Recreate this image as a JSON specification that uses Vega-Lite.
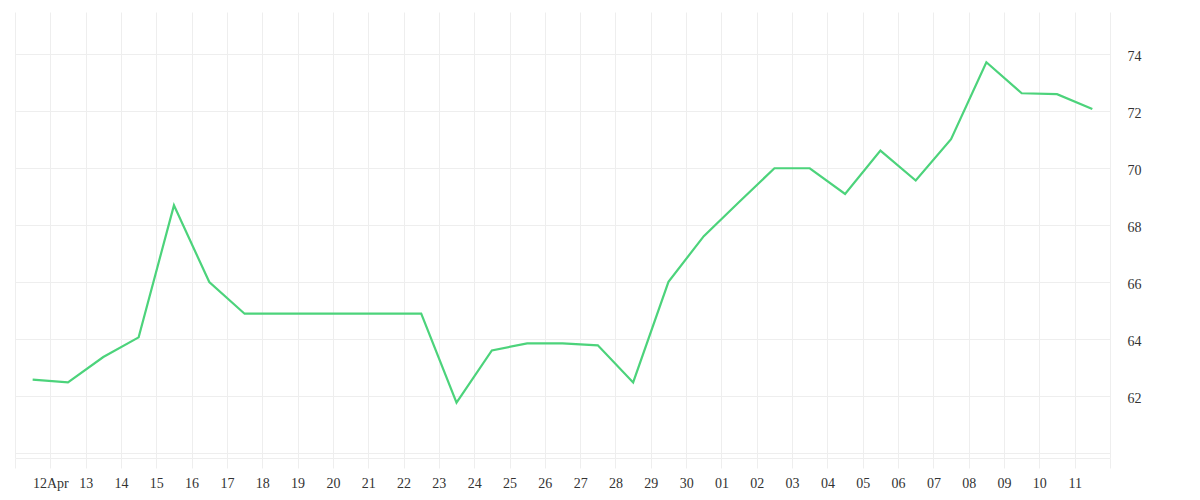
{
  "$schema": "https://vega.github.io/schema/vega-lite/v6.json",
  "autosize": "none",
  "width": 1095,
  "height": 446,
  "padding": {"left": 15, "top": 12, "right": 90, "bottom": 42},
  "background": "white",
  "config": {
    "view": {"stroke": null},
    "axis": {"labelFont": "Liberation Serif", "labelFontSize": 14, "labelColor": "#333333", "gridColor": "#eeeeee", "gridWidth": 1}
  },
  "data": {
    "values": [
      {"date": "2024-04-11T12:00:00Z", "value": 62.59},
      {"date": "2024-04-12T12:00:00Z", "value": 62.49},
      {"date": "2024-04-13T12:00:00Z", "value": 63.38},
      {"date": "2024-04-14T12:00:00Z", "value": 64.07},
      {"date": "2024-04-15T12:00:00Z", "value": 68.70},
      {"date": "2024-04-16T12:00:00Z", "value": 66.01},
      {"date": "2024-04-17T12:00:00Z", "value": 64.90},
      {"date": "2024-04-18T12:00:00Z", "value": 64.90},
      {"date": "2024-04-19T12:00:00Z", "value": 64.90},
      {"date": "2024-04-20T12:00:00Z", "value": 64.90},
      {"date": "2024-04-21T12:00:00Z", "value": 64.90},
      {"date": "2024-04-22T12:00:00Z", "value": 64.90},
      {"date": "2024-04-23T12:00:00Z", "value": 61.78},
      {"date": "2024-04-24T12:00:00Z", "value": 63.61},
      {"date": "2024-04-25T12:00:00Z", "value": 63.86},
      {"date": "2024-04-26T12:00:00Z", "value": 63.86},
      {"date": "2024-04-27T12:00:00Z", "value": 63.79},
      {"date": "2024-04-28T12:00:00Z", "value": 62.49},
      {"date": "2024-04-29T12:00:00Z", "value": 66.02},
      {"date": "2024-04-30T12:00:00Z", "value": 67.62},
      {"date": "2024-05-01T12:00:00Z", "value": 68.82},
      {"date": "2024-05-02T12:00:00Z", "value": 70.00},
      {"date": "2024-05-03T12:00:00Z", "value": 70.00},
      {"date": "2024-05-04T12:00:00Z", "value": 69.10},
      {"date": "2024-05-05T12:00:00Z", "value": 70.62},
      {"date": "2024-05-06T12:00:00Z", "value": 69.57},
      {"date": "2024-05-07T12:00:00Z", "value": 71.02},
      {"date": "2024-05-08T12:00:00Z", "value": 73.72},
      {"date": "2024-05-09T12:00:00Z", "value": 72.63},
      {"date": "2024-05-10T12:00:00Z", "value": 72.60},
      {"date": "2024-05-11T12:00:00Z", "value": 72.08}
    ]
  },
  "mark": {"type": "line", "color": "#4cd37b", "strokeWidth": 2.2, "clip": true},
  "encoding": {
    "x": {
      "field": "date",
      "type": "temporal",
      "scale": {"type": "utc", "domain": [{"year": 2024, "month": 4, "date": 11, "utc": true}, {"year": 2024, "month": 5, "date": 12, "utc": true}], "nice": false},
      "axis": {
        "title": null,
        "tickCount": {"interval": "day", "step": 1},
        "grid": true,
        "domain": true,
        "domainColor": "#eeeeee",
        "ticks": true,
        "tickColor": "#eeeeee",
        "tickSize": 10,
        "labelPadding": 8,
        "labelOverlap": false,
        "labelFlush": false,
        "labelBound": false,
        "labelExpr": "(utcmonth(datum.value) == 3 && utcdate(datum.value) == 11) || (utcmonth(datum.value) == 4 && utcdate(datum.value) == 12) ? '' : (utcmonth(datum.value) == 3 && utcdate(datum.value) == 12 ? '12Apr' : utcFormat(datum.value, '%d'))"
      }
    },
    "y": {
      "field": "value",
      "type": "quantitative",
      "scale": {"domain": [59.84, 75.48], "nice": false, "zero": false},
      "axis": {
        "title": null,
        "orient": "right",
        "values": [60, 62, 64, 66, 68, 70, 72, 74],
        "grid": true,
        "domain": false,
        "ticks": false,
        "labelPadding": 17,
        "labelOffset": 2,
        "labelExpr": "datum.value == 60 ? '' : datum.label"
      }
    }
  }
}
